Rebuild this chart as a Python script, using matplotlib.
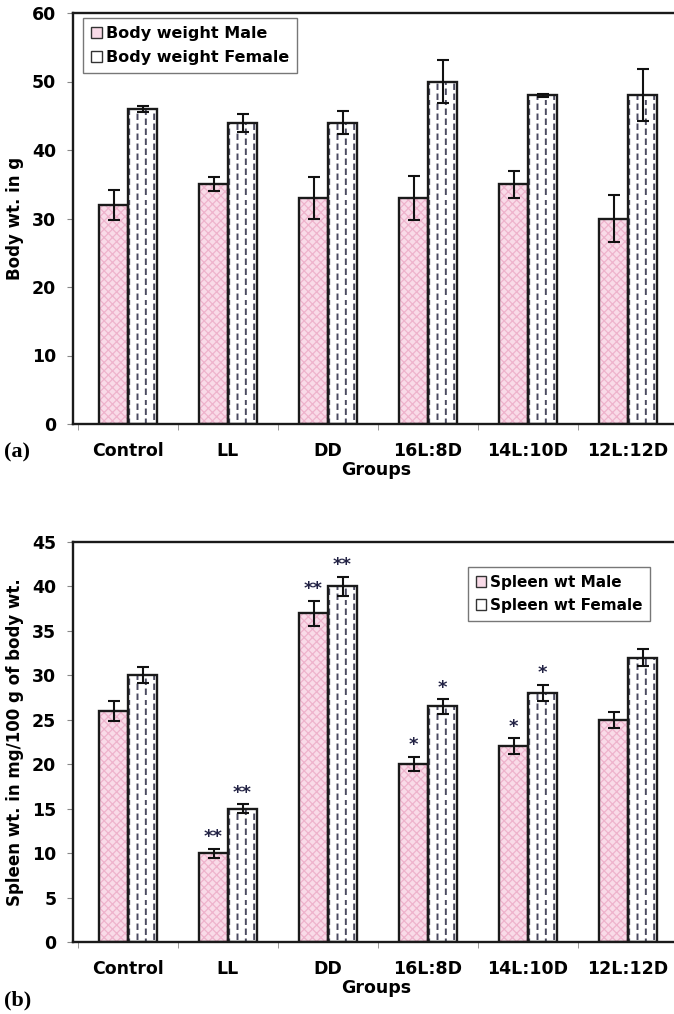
import numpy as np
import matplotlib
matplotlib.use('Agg')
import matplotlib.pyplot as plt
import matplotlib.hatch as mhatch
from matplotlib.path import Path
from matplotlib.patches import Patch

plt.rcParams.update({'font.family': 'DejaVu Sans', 'font.weight': 'bold',
                     'hatch.linewidth': 0.9})


# staggered vertical dashes (the Excel-style fill of the female bars), hooked to 'O'
class VDashes(mhatch.HatchPatternBase):
    def __init__(self, hatch, density):
        self.on = hatch.count('O') > 0
        self.ncol, self.nrow = 12, 10
        self.num_vertices = self.ncol * self.nrow * 2 if self.on else 0

    def set_vertices_and_codes(self, vertices, codes):
        k = 0
        for c in range(self.ncol):
            for r in range(self.nrow):
                x0 = (c + 0.5) / self.ncol
                y0 = (r + 0.5 * (c % 2) + 0.1) / self.nrow
                vertices[k] = (x0, y0)
                vertices[k + 1] = (x0, y0 + 0.045)
                codes[k] = Path.MOVETO
                codes[k + 1] = Path.LINETO
                k += 2


mhatch._hatch_types = [VDashes if t is mhatch.LargeCircles else t for t in mhatch._hatch_types]

groups = ['Control', 'LL', 'DD', '16L:8D', '14L:10D', '12L:12D']

# (a) body weight, g
body_male = [32, 35, 33, 33, 35, 30]
body_male_err = [2.2, 1.0, 3.0, 3.2, 2.0, 3.4]
body_female = [46, 44, 44, 50, 48, 48]
body_female_err = [0.4, 1.3, 1.7, 3.2, 0.2, 3.8]

# (b) spleen weight, mg/100 g of body wt.
spleen_male = [26, 10, 37, 20, 22, 25]
spleen_male_err = [1.1, 0.5, 1.4, 0.8, 0.9, 0.9]
spleen_female = [30, 15, 40, 26.5, 28, 32]
spleen_female_err = [0.9, 0.5, 1.1, 0.8, 0.9, 1.0]
spleen_male_sig = ['', '**', '**', '*', '*', '']
spleen_female_sig = ['', '**', '**', '*', '*', '']

W, H = 674, 1014
MALE_FACE, MALE_HATCH = '#f9dbe8', '#eeb3cc'
FEM_FACE, FEM_HATCH = 'white', '#4a4a60'
bw = 0.29


def draw_bars(ax, x, vals, errs, face, hcol, hatch, hlw):
    plt.rcParams['hatch.linewidth'] = hlw
    ax.bar(x, vals, bw, color=face, edgecolor=hcol, hatch=hatch, linewidth=0, zorder=2)
    ax.bar(x, vals, bw, fill=False, edgecolor='#1a1a1a', linewidth=1.7, zorder=3)
    ax.errorbar(x, vals, yerr=errs, fmt='none', ecolor='#111111', elinewidth=1.5,
                capsize=4.5, capthick=1.5, zorder=4)


def panel(ax, male, male_err, fem, fem_err, ymax, ystep, ylabel):
    x = np.arange(len(groups))
    draw_bars(ax, x - bw / 2, male, male_err, MALE_FACE, MALE_HATCH, 'xxxx', 0.9)
    draw_bars(ax, x + bw / 2, fem, fem_err, FEM_FACE, FEM_HATCH, 'O', 1.4)
    ax.set_xlim(-0.55, 5.52)
    ax.set_ylim(0, ymax)
    ax.set_yticks(np.arange(0, ymax + 0.1, ystep))
    ax.set_xticks(x)
    ax.set_xticklabels(groups, fontsize=12.5, fontweight='bold')
    ax.set_xticks(np.arange(-0.5, 5.6, 1), minor=True)
    ax.tick_params(axis='x', which='major', length=0, pad=13)
    ax.tick_params(axis='x', which='minor', length=4, color='#888888')
    ax.tick_params(axis='y', length=4, color='#888888', labelsize=12.5, pad=8)
    for lab in ax.get_yticklabels():
        lab.set_fontweight('bold')
    ax.spines['right'].set_visible(False)
    for s in ['left', 'top', 'bottom']:
        ax.spines[s].set_linewidth(1.7)
        ax.spines[s].set_color('#1a1a1a')
    ax.set_xlabel('Groups', fontsize=12.5, fontweight='bold', labelpad=1)
    ax.set_ylabel(ylabel, fontsize=12, fontweight='bold', labelpad=6)
    return x


def legend_handles(male_lab, fem_lab):
    return [Patch(facecolor=MALE_FACE, edgecolor='#333333', label=male_lab),
            Patch(facecolor=FEM_FACE, edgecolor='#333333', label=fem_lab)]


fig = plt.figure(figsize=(W / 100, H / 100), dpi=100)
ax1 = fig.add_axes([73 / W, 1 - 424 / H, 607 / W, 411 / H])
ax2 = fig.add_axes([73 / W, 1 - 942 / H, 607 / W, 400 / H])

panel(ax1, body_male, body_male_err, body_female, body_female_err, 60, 10, 'Body wt. in g')
x = panel(ax2, spleen_male, spleen_male_err, spleen_female, spleen_female_err, 45, 5,
          'Spleen wt. in mg/100 g of body wt.')

# significance marks
for i in range(len(groups)):
    if spleen_male_sig[i]:
        ax2.text(x[i] - bw / 2, spleen_male[i] + spleen_male_err[i] + 0.3, spleen_male_sig[i],
                 ha='center', va='bottom', fontsize=13, color='#222244')
    if spleen_female_sig[i]:
        ax2.text(x[i] + bw / 2, spleen_female[i] + spleen_female_err[i] + 0.3, spleen_female_sig[i],
                 ha='center', va='bottom', fontsize=13, color='#222244')

leg_kw = dict(loc='upper left', handlelength=0.7, handleheight=0.7, handletextpad=0.25,
              labelspacing=0.55, borderpad=0.5, borderaxespad=0, fancybox=False,
              framealpha=1, edgecolor='#777777')
leg1 = ax1.legend(handles=legend_handles('Body weight Male', 'Body weight Female'),
                  bbox_to_anchor=(10 / 607, 1 - 5 / 411), fontsize=11.5, **leg_kw)
leg2 = ax2.legend(handles=legend_handles('Spleen wt Male', 'Spleen wt Female'),
                  bbox_to_anchor=(395 / 607, 1 - 25 / 400), fontsize=11, **leg_kw)
for leg in (leg1, leg2):
    for t in leg.get_texts():
        t.set_fontweight('bold')
    leg.get_frame().set_linewidth(1.0)

fig.text(4 / W, 1 - 452 / H, '(a)', fontsize=16, fontweight='bold', family='Liberation Serif',
         va='center', ha='left')
fig.text(4 / W, 1 - 1000 / H, '(b)', fontsize=16, fontweight='bold', family='Liberation Serif',
         va='center', ha='left')

fig.savefig('out.png', dpi=100)
